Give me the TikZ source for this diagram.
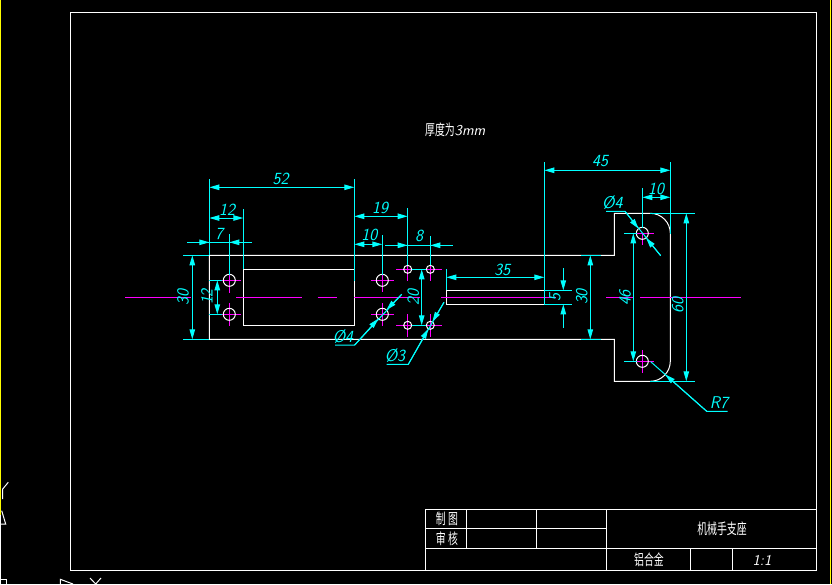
\documentclass[tikz,border=0pt]{standalone}
\usepackage{fontspec}
\newfontfamily\cjkfont{Noto Sans CJK SC}
\usetikzlibrary{arrows.meta}
\definecolor{dimcol}{RGB}{0,255,255}
\definecolor{cencol}{RGB}{255,0,255}
\definecolor{iconcol}{RGB}{255,255,0}
\tikzset{
  partline/.style={draw=white, line width=1pt},
  cenline/.style={draw=cencol, line width=1pt},
  dimline/.style={draw=dimcol, line width=1pt},
  dimarrow/.style={dimline, -{Triangle[length=10pt,width=5.5pt,fill=dimcol]}},
  dimarrows/.style={dimline, {Triangle[length=10pt,width=5.5pt,fill=dimcol]}-{Triangle[length=10pt,width=5.5pt,fill=dimcol]}},
  dimlabel/.style={text=dimcol, inner sep=0pt, font=\sffamily\itshape\fontsize{17}{17}\selectfont},
  cnlabel/.style={text=white, inner sep=0pt, transform shape, xscale=0.66, font=\cjkfont\fontsize{15}{15}\selectfont}
}
\begin{document}
\begin{tikzpicture}[x=1pt,y=-1pt]
      \fill[black] (0,0) rectangle (832,584);
      \useasboundingbox (0,0) rectangle (832,584);
      % screen edge and cut off icons
      \draw[iconcol, line width=1.2pt] (0.6,0) -- (0.6,515);
      \draw[iconcol, line width=1.2pt] (830.7,0) -- (830.7,584);
      \draw[partline] (0.5,515) -- (0.5,584);
      \draw[partline] (8.3,482.3) -- (2.7,489) -- (2.7,499);
      \draw[partline] (1.7,510.7) -- (5.7,524) -- (0,524);
      \draw[partline] (0,579.3) -- (6.7,579.3) -- (6.7,584);
      \draw[partline] (60.3,584) -- (60.3,579.3) -- (73,584);
      \draw[partline] (90,578) -- (95.7,584) -- (101,578);
      % frame and title block
      \draw[partline] (70.5,12.5) rectangle (816.3,570.3);
      \draw[partline] (425.3,509.3) rectangle (816.3,570.3);
      \draw[partline] (425.3,528.3) -- (606.7,528.3);
      \draw[partline] (425.3,548.3) -- (816.3,548.3);
      \draw[partline] (466.7,509.3) -- (466.7,548.3);
      \draw[partline] (536.7,509.3) -- (536.7,548.3);
      \draw[partline] (606.7,509.3) -- (606.7,570.3);
      \draw[partline] (690.7,548.3) -- (690.7,570.3);
      \draw[partline] (732.7,548.3) -- (732.7,570.3);
      \node (tzhi) [cnlabel] at (447,519) {制\ 图};
      \node (tshen) [cnlabel] at (447,538.5) {审\ 核};
      \node (tname) [cnlabel] at (722,529) {机械手支座};
      \node (tmat) [cnlabel] at (649,560) {铝合金};
      \node (tscale) [text=white, inner sep=0pt, font=\sffamily\itshape\fontsize{15}{15}\selectfont] at (762,560) {1:1};
      \node (thick) [cnlabel] at (440,130) {厚度为};
      \node (thickb) [text=white, inner sep=0pt, font=\sffamily\itshape\fontsize{15}{15}\selectfont] at (470,130.5) {3mm};
      % part outline
      \draw[partline] (209.3,255.3) -- (614.3,255.3) -- (614.3,213.3) -- (650.3,213.3)
        .. controls (661.3,213.3) and (670.3,222.3) .. (670.3,233.3) -- (670.3,361.3)
        .. controls (670.3,372.3) and (661.3,381.3) .. (650.3,381.3) -- (614.3,381.3)
        -- (614.3,339.3) -- (209.3,339.3) -- cycle;
      \draw[partline] (243.3,269.3) rectangle (354.3,325.3);
      \draw[partline] (446.3,290.3) rectangle (544.3,304.3);
      % centre lines
      \draw[cenline] (125,297.3) -- (191,297.3);
      \draw[cenline] (236,297.3) -- (301.7,297.3);
      \draw[cenline] (317.7,297.3) -- (336.7,297.3);
      \draw[cenline] (354.3,297.3) -- (420,297.3);
      \draw[cenline] (441,297.3) -- (556,297.3);
      \draw[cenline] (606,297.3) -- (633,297.3);
      \draw[cenline] (640,297.3) -- (740.7,297.3);
      \draw[cenline] (222,280.3) -- (241,280.3);
      \draw[cenline] (229.3,275) -- (229.3,292.7);
      \draw[cenline] (222,314.3) -- (241,314.3);
      \draw[cenline] (229.3,303) -- (229.3,326);
      \draw[cenline] (371,280.3) -- (394,280.3);
      \draw[cenline] (382.3,275) -- (382.3,292);
      \draw[cenline] (371,314.3) -- (394,314.3);
      \draw[cenline] (382.3,303) -- (382.3,326);
      \draw[cenline] (396,269.3) -- (412,269.3);
      \draw[cenline] (407.7,265) -- (407.7,281);
      \draw[cenline] (396,325.3) -- (412,325.3);
      \draw[cenline] (407.7,314) -- (407.7,337);
      \draw[cenline] (426,269.3) -- (442,269.3);
      \draw[cenline] (430.3,265) -- (430.3,281);
      \draw[cenline] (426,325.3) -- (442,325.3);
      \draw[cenline] (430.3,314) -- (430.3,337);
      \draw[cenline] (637,233.3) -- (654,233.3);
      \draw[cenline] (642.3,233.3) -- (642.3,245);
      \draw[cenline] (637,361.3) -- (654,361.3);
      \draw[cenline] (642.3,350) -- (642.3,373.3);
      % holes
      \draw[partline] (229.3,280.3) circle (6pt);
      \draw[partline] (229.3,314.3) circle (6pt);
      \draw[partline] (382.3,280.3) circle (6pt);
      \draw[partline] (382.3,314.3) circle (6pt);
      \draw[partline] (407.7,269.3) circle (4pt);
      \draw[partline] (407.7,325.3) circle (4pt);
      \draw[partline] (430.3,269.3) circle (4pt);
      \draw[partline] (430.3,325.3) circle (4pt);
      \draw[partline] (642.3,233.3) circle (6pt);
      \draw[partline] (642.3,361.3) circle (6pt);
      % extension lines
      \draw[dimline] (209.3,179) -- (209.3,255.3);
      \draw[dimline] (354.3,179) -- (354.3,280.7);
      \draw[dimline] (243.3,209.3) -- (243.3,269.3);
      \draw[dimline] (229.3,234) -- (229.3,275);
      \draw[dimline] (183.3,255.3) -- (209.3,255.3);
      \draw[dimline] (183.3,339.3) -- (209.3,339.3);
      \draw[dimline] (209.3,280.3) -- (222,280.3);
      \draw[dimline] (209.3,314.3) -- (222,314.3);
      \draw[dimline] (407.7,208.3) -- (407.7,265);
      \draw[dimline] (382.3,235) -- (382.3,275);
      \draw[dimline] (430.3,236) -- (430.3,265);
      \draw[dimline] (412,269.3) -- (426,269.3);
      \draw[dimline] (412,325.3) -- (426,325.3);
      \draw[dimline] (446.3,269.3) -- (446.3,290.3);
      \draw[dimline] (544.3,162) -- (544.3,304.3);
      \draw[dimline] (670.3,162.3) -- (670.3,234);
      \draw[dimline] (642.3,188.3) -- (642.3,228);
      \draw[dimline] (544.3,290.3) -- (571.7,290.3);
      \draw[dimline] (544.3,304.3) -- (571.7,304.3);
      \draw[dimline] (581,255.3) -- (601,255.3);
      \draw[dimline] (581,339.3) -- (601,339.3);
      \draw[dimline] (624,233.3) -- (637,233.3);
      \draw[dimline] (624,361.3) -- (637,361.3);
      \draw[dimline] (650,213.3) -- (695,213.3);
      \draw[dimline] (650,381.3) -- (695,381.3);
      % dimensions
      \draw[dimarrows] (209.3,187.3) -- (354.3,187.3);
      \node (d52) [dimlabel] at (280.7,179) {52};
      \draw[dimarrows] (209.3,218) -- (243.3,218);
      \node (d12) [dimlabel] at (227,209.5) {12};
      \draw[dimline] (187.3,242.3) -- (251.7,242.3);
      \draw[dimarrow] (187.3,242.3) -- (209.3,242.3);
      \draw[dimarrow] (251.7,242.3) -- (229.3,242.3);
      \node (d7) [dimlabel] at (219,234) {7};
      \draw[dimarrows] (192.3,255.3) -- (192.3,339.3);
      \node (d30a) [dimlabel, rotate=90] at (183,297.5) {30};
      \draw[dimarrows] (217.3,280.3) -- (217.3,314.3);
      \node (d12b) [dimlabel, rotate=90] at (207,297) {12};
      \draw[dimarrows] (354.3,216.3) -- (407.7,216.3);
      \node (d19) [dimlabel] at (380,207.5) {19};
      \draw[dimarrows] (354.3,244.3) -- (382.3,244.3);
      \node (d10) [dimlabel] at (369.3,235.2) {10};
      \draw[dimline] (385,245.3) -- (452.7,245.3);
      \draw[dimarrow] (385,245.3) -- (407.7,245.3);
      \draw[dimarrow] (452.7,245.3) -- (430.3,245.3);
      \node (d8) [dimlabel] at (419,236.2) {8};
      \draw[dimarrows] (421.7,269.3) -- (421.7,325.3);
      \node (d20) [dimlabel, rotate=90] at (413.3,297.3) {20};
      \draw[dimarrows] (446.3,277.3) -- (544.3,277.3);
      \node (d35) [dimlabel] at (502.3,269.5) {35};
      \draw[dimarrow] (563.3,268.3) -- (563.3,290.3);
      \draw[dimarrow] (563.3,327.7) -- (563.3,304.3);
      \node (d5) [dimlabel, rotate=90] at (555,297.3) {5};
      \draw[dimarrows] (590.3,255.3) -- (590.3,339.3);
      \node (d30b) [dimlabel, rotate=90] at (581.7,297) {30};
      \draw[dimarrows] (544.3,170.3) -- (670.3,170.3);
      \node (d45) [dimlabel] at (600,161.5) {45};
      \draw[dimarrows] (642.3,197.3) -- (670.3,197.3);
      \node (d10b) [dimlabel] at (656,188.5) {10};
      \draw[dimarrows] (633.3,233.3) -- (633.3,361.3);
      \node (d46) [dimlabel, rotate=90] at (625,298) {46};
      \draw[dimarrows] (686.3,213.3) -- (686.3,381.3);
      \node (d60) [dimlabel, rotate=90] at (677.7,305.7) {60};
      % leaders
      \draw[dimline] (335,345) -- (354.7,345) -- (401.7,294.3);
      \draw[dimarrow] (354.7,345) -- (378.2,318.7);
      \draw[dimarrow] (401.7,294.3) -- (386.4,309.9);
      \node (dia4a) [dimlabel] at (343,336.5) {Ø4};
      \draw[dimline] (386.7,364.3) -- (408.3,364.3) -- (444,302.3);
      \draw[dimarrow] (408.3,364.3) -- (428.3,328.8);
      \draw[dimarrow] (444,302.3) -- (432.3,321.8);
      \node (dia3) [dimlabel] at (395,355.5) {Ø3};
      \draw[dimline] (606,211.3) -- (625,211.3) -- (660.7,255.7);
      \draw[dimarrow] (625,211.3) -- (638.5,228.6);
      \draw[dimarrow] (660.7,255.7) -- (646.1,238);
      \node (dia4b) [dimlabel] at (612.3,203) {Ø4};
      \draw[dimline] (650.7,361.7) -- (706.7,411.3) -- (727.7,411.3);
      \draw[dimarrow] (706.7,411.3) -- (665.3,374.6);
      \node (r7) [dimlabel] at (719,403) {R7};
    \end{tikzpicture}
\end{document}
